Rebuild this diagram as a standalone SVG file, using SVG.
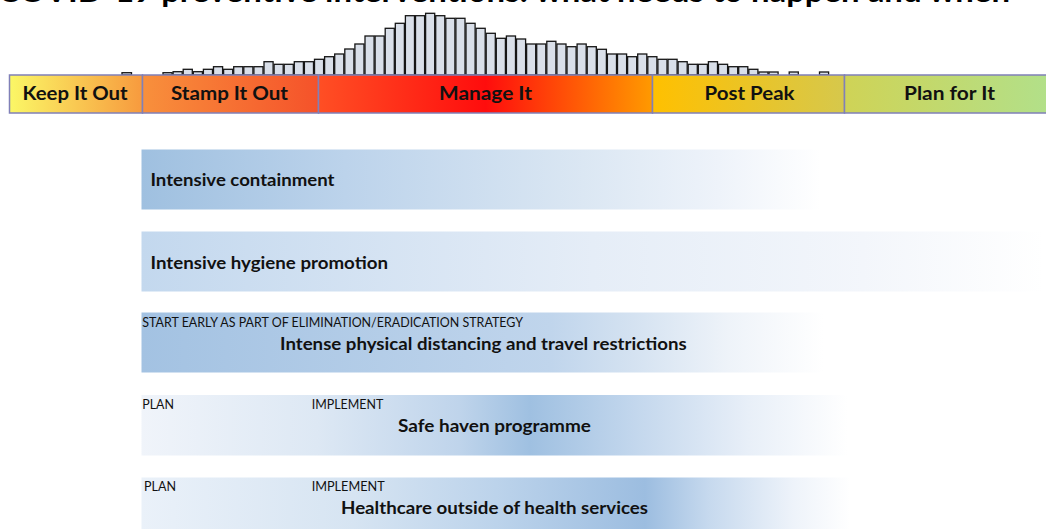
<svg xmlns="http://www.w3.org/2000/svg" width="1046" height="529" viewBox="0 0 1046 529">
<style>
.title{font-family:Lato,"Liberation Sans",sans-serif;font-weight:bold;font-size:30px;fill:#000}
.phase{font-family:Lato,"Liberation Sans",sans-serif;font-weight:bold;font-size:19px;fill:#111}
.seg{stroke:#8080b8;stroke-width:1.5}
.hb{fill:#d9dfe9;stroke:#161616;stroke-width:1.3}
.lbl{font-family:Lato,"Liberation Sans",sans-serif;font-weight:bold;font-size:16.5px;fill:#111}
.sm{font-family:Lato,"Liberation Sans",sans-serif;font-size:12.5px;fill:#111}
</style>
<defs>
<linearGradient id="gKeep" x1="0" y1="0" x2="1" y2="0"><stop offset="0" stop-color="#fbf766"/><stop offset="1" stop-color="#f79a3e"/></linearGradient>
<linearGradient id="gStamp" x1="0" y1="0" x2="1" y2="0"><stop offset="0" stop-color="#f8903c"/><stop offset="1" stop-color="#f5522a"/></linearGradient>
<linearGradient id="gManage" x1="0" y1="0" x2="1" y2="0"><stop offset="0" stop-color="#ff4f24"/><stop offset="0.5" stop-color="#ff0d0d"/><stop offset="1" stop-color="#ff9a00"/></linearGradient>
<linearGradient id="gPost" x1="0" y1="0" x2="1" y2="0"><stop offset="0" stop-color="#ffc000"/><stop offset="1" stop-color="#d6c84c"/></linearGradient>
<linearGradient id="gPlan" x1="0" y1="0" x2="1" y2="0"><stop offset="0" stop-color="#cfd356"/><stop offset="1" stop-color="#b2e08a"/></linearGradient>
<linearGradient id="b1" x1="0" y1="0" x2="1" y2="0"><stop offset="0" stop-color="#9fc0e0"/><stop offset="0.3" stop-color="#bcd3eb"/><stop offset="0.65" stop-color="#dbe7f3"/><stop offset="0.85" stop-color="#eef3fa"/><stop offset="1" stop-color="#ffffff"/></linearGradient>
<linearGradient id="b2" x1="0" y1="0" x2="1" y2="0"><stop offset="0" stop-color="#c3d8ee"/><stop offset="0.5" stop-color="#e5edf7"/><stop offset="0.8" stop-color="#f3f6fb"/><stop offset="1" stop-color="#ffffff"/></linearGradient>
<linearGradient id="b3" x1="0" y1="0" x2="1" y2="0"><stop offset="0" stop-color="#a3c2e2"/><stop offset="0.6" stop-color="#c0d5ec"/><stop offset="0.72" stop-color="#d4e2f1"/><stop offset="0.86" stop-color="#eef3f9"/><stop offset="1" stop-color="#ffffff"/></linearGradient>
<linearGradient id="b4" x1="0" y1="0" x2="1" y2="0"><stop offset="0" stop-color="#f0f4fa"/><stop offset="0.25" stop-color="#dde8f4"/><stop offset="0.45" stop-color="#bfd4eb"/><stop offset="0.55" stop-color="#9fc0e1"/><stop offset="0.7" stop-color="#c3d7ed"/><stop offset="0.86" stop-color="#e8eff8"/><stop offset="1" stop-color="#ffffff"/></linearGradient>
<linearGradient id="b5" x1="0" y1="0" x2="1" y2="0"><stop offset="0" stop-color="#eaf1f9"/><stop offset="0.3" stop-color="#d6e4f2"/><stop offset="0.5" stop-color="#bcd3eb"/><stop offset="0.71" stop-color="#9cbde0"/><stop offset="0.8" stop-color="#c6d9ee"/><stop offset="0.92" stop-color="#eef3fa"/><stop offset="1" stop-color="#ffffff"/></linearGradient>
</defs>
<rect width="1046" height="529" fill="#ffffff"/>
<text class="title" x="-2" y="1.5" textLength="1012" lengthAdjust="spacingAndGlyphs">COVID-19 preventive interventions: what needs to happen and when</text>
<g id="histogram">
<rect class="hb" x="122" y="72.7" width="9.5" height="2.3"/>
<rect class="hb" x="163" y="72.7" width="9.1" height="2.3"/>
<rect class="hb" x="173.1" y="71.7" width="9.1" height="3.3"/>
<rect class="hb" x="183.2" y="69.3" width="9.1" height="5.7"/>
<rect class="hb" x="193.3" y="71.7" width="9.1" height="3.3"/>
<rect class="hb" x="203.4" y="69.3" width="9.1" height="5.7"/>
<rect class="hb" x="213.5" y="66.7" width="9.1" height="8.3"/>
<rect class="hb" x="223.6" y="69.3" width="9.1" height="5.7"/>
<rect class="hb" x="233.7" y="66.7" width="9.1" height="8.3"/>
<rect class="hb" x="243.8" y="66.7" width="9.1" height="8.3"/>
<rect class="hb" x="253.9" y="66.7" width="9.1" height="8.3"/>
<rect class="hb" x="264" y="61.7" width="9.1" height="13.3"/>
<rect class="hb" x="274.1" y="64.3" width="9.1" height="10.7"/>
<rect class="hb" x="284.2" y="64.3" width="9.1" height="10.7"/>
<rect class="hb" x="294.3" y="61.7" width="9.1" height="13.3"/>
<rect class="hb" x="304.4" y="61.7" width="9.1" height="13.3"/>
<rect class="hb" x="314.5" y="59.3" width="9.1" height="15.7"/>
<rect class="hb" x="324.6" y="56.7" width="9.1" height="18.3"/>
<rect class="hb" x="334.7" y="54" width="9.1" height="21"/>
<rect class="hb" x="344.8" y="49" width="9.1" height="26"/>
<rect class="hb" x="354.9" y="44" width="9.1" height="31"/>
<rect class="hb" x="365" y="36" width="9.1" height="39"/>
<rect class="hb" x="375.1" y="36" width="9.1" height="39"/>
<rect class="hb" x="385.2" y="28.3" width="9.1" height="46.7"/>
<rect class="hb" x="395.3" y="23.3" width="9.1" height="51.7"/>
<rect class="hb" x="405.4" y="15.7" width="9.1" height="59.3"/>
<rect class="hb" x="415.5" y="15.7" width="9.1" height="59.3"/>
<rect class="hb" x="425.6" y="13.3" width="9.1" height="61.7"/>
<rect class="hb" x="435.7" y="15.7" width="9.1" height="59.3"/>
<rect class="hb" x="445.8" y="18.3" width="9.1" height="56.7"/>
<rect class="hb" x="455.9" y="18.3" width="9.1" height="56.7"/>
<rect class="hb" x="466" y="23.3" width="9.1" height="51.7"/>
<rect class="hb" x="476.1" y="28.3" width="9.1" height="46.7"/>
<rect class="hb" x="486.2" y="33.3" width="9.1" height="41.7"/>
<rect class="hb" x="496.3" y="38.3" width="9.1" height="36.7"/>
<rect class="hb" x="506.4" y="36" width="9.1" height="39"/>
<rect class="hb" x="516.5" y="39" width="9.1" height="36"/>
<rect class="hb" x="526.6" y="44" width="9.1" height="31"/>
<rect class="hb" x="536.7" y="44" width="9.1" height="31"/>
<rect class="hb" x="546.8" y="41.3" width="9.1" height="33.7"/>
<rect class="hb" x="556.9" y="44" width="9.1" height="31"/>
<rect class="hb" x="567" y="46.7" width="9.1" height="28.3"/>
<rect class="hb" x="577.1" y="44" width="9.1" height="31"/>
<rect class="hb" x="587.2" y="46.7" width="9.1" height="28.3"/>
<rect class="hb" x="597.3" y="49.3" width="9.1" height="25.7"/>
<rect class="hb" x="607.4" y="54" width="9.1" height="21"/>
<rect class="hb" x="617.5" y="54" width="9.1" height="21"/>
<rect class="hb" x="627.6" y="56.7" width="9.1" height="18.3"/>
<rect class="hb" x="637.7" y="54" width="9.1" height="21"/>
<rect class="hb" x="647.8" y="56.7" width="9.1" height="18.3"/>
<rect class="hb" x="657.9" y="59.3" width="9.1" height="15.7"/>
<rect class="hb" x="668" y="59.3" width="9.1" height="15.7"/>
<rect class="hb" x="678.1" y="61.7" width="9.1" height="13.3"/>
<rect class="hb" x="688.2" y="64.3" width="9.1" height="10.7"/>
<rect class="hb" x="698.3" y="64.3" width="9.1" height="10.7"/>
<rect class="hb" x="708.4" y="61.7" width="9.1" height="13.3"/>
<rect class="hb" x="718.5" y="64.3" width="9.1" height="10.7"/>
<rect class="hb" x="728.6" y="66.7" width="9.1" height="8.3"/>
<rect class="hb" x="738.7" y="66.7" width="9.1" height="8.3"/>
<rect class="hb" x="748.8" y="69.3" width="9.1" height="5.7"/>
<rect class="hb" x="758.9" y="72" width="9.1" height="3"/>
<rect class="hb" x="769" y="72" width="9.1" height="3"/>
<rect class="hb" x="789.2" y="72" width="9.1" height="3"/>
<rect class="hb" x="819.5" y="72" width="9.1" height="3"/>
</g>
<g id="phase-keep"><rect class="seg" x="9.5" y="75" width="133" height="38" fill="url(#gKeep)"/><text class="phase" x="22.5" y="100" textLength="105" lengthAdjust="spacingAndGlyphs">Keep It Out</text></g>
<g id="phase-stamp"><rect class="seg" x="142.5" y="75" width="176" height="38" fill="url(#gStamp)"/><text class="phase" x="171" y="100" textLength="117" lengthAdjust="spacingAndGlyphs">Stamp It Out</text></g>
<g id="phase-manage"><rect class="seg" x="318.5" y="75" width="334" height="38" fill="url(#gManage)"/><text class="phase" x="439" y="100" textLength="93" lengthAdjust="spacingAndGlyphs">Manage It</text></g>
<g id="phase-post"><rect class="seg" x="652.5" y="75" width="192" height="38" fill="url(#gPost)"/><text class="phase" x="704.5" y="100" textLength="90" lengthAdjust="spacingAndGlyphs">Post Peak</text></g>
<g id="phase-plan"><rect class="seg" x="844.5" y="75" width="205" height="38" fill="url(#gPlan)"/><text class="phase" x="904" y="100" textLength="91" lengthAdjust="spacingAndGlyphs">Plan for It</text></g>
<g id="containment"><rect x="141.5" y="149.5" width="679" height="60" fill="url(#b1)"/><text class="lbl" x="150.5" y="186" textLength="184" lengthAdjust="spacingAndGlyphs">Intensive containment</text></g>
<g id="hygiene"><rect x="141.5" y="231.5" width="902" height="60" fill="url(#b2)"/><text class="lbl" x="150.5" y="268.5" textLength="237.5" lengthAdjust="spacingAndGlyphs">Intensive hygiene promotion</text></g>
<g id="distancing"><rect x="141.5" y="312.5" width="682" height="60" fill="url(#b3)"/><text class="sm" x="142.3" y="326.5" textLength="380.7" lengthAdjust="spacingAndGlyphs">START EARLY AS PART OF ELIMINATION/ERADICATION STRATEGY</text><text class="lbl" x="280" y="349.5" textLength="406.7" lengthAdjust="spacingAndGlyphs">Intense physical distancing and travel restrictions</text></g>
<g id="safe-haven"><rect x="141.5" y="395" width="706" height="60.5" fill="url(#b4)"/><text class="sm" x="142.3" y="408.5" textLength="31.7" lengthAdjust="spacingAndGlyphs">PLAN</text><text class="sm" x="311.7" y="408.5" textLength="71.6" lengthAdjust="spacingAndGlyphs">IMPLEMENT</text><text class="lbl" x="398" y="432" textLength="193" lengthAdjust="spacingAndGlyphs">Safe haven programme</text></g>
<g id="healthcare"><rect x="141.5" y="477.5" width="709" height="52" fill="url(#b5)"/><text class="sm" x="144" y="490.5" textLength="32" lengthAdjust="spacingAndGlyphs">PLAN</text><text class="sm" x="311.7" y="490.5" textLength="73" lengthAdjust="spacingAndGlyphs">IMPLEMENT</text><text class="lbl" x="341" y="514" textLength="307" lengthAdjust="spacingAndGlyphs">Healthcare outside of health services</text></g>
<g id="connectors"></g>
</svg>
